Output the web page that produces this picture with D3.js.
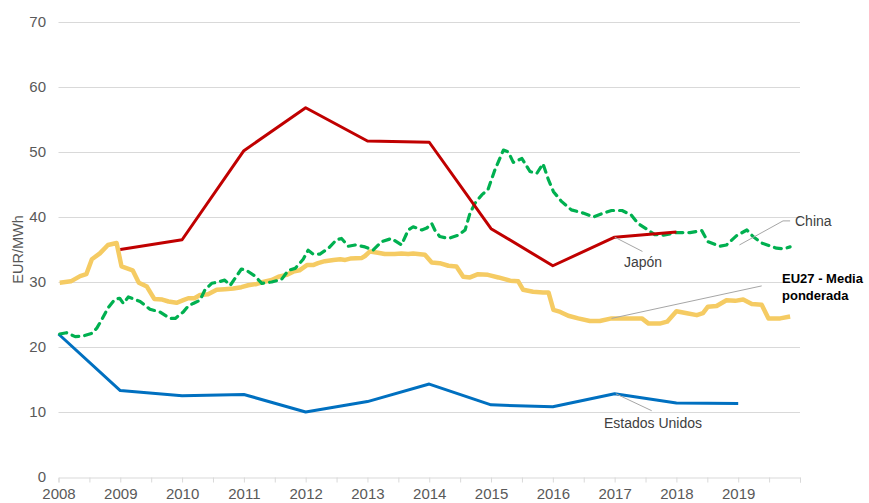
<!DOCTYPE html>
<html>
<head>
<meta charset="utf-8">
<script src="https://cdn.jsdelivr.net/npm/d3@7"></script>
<style>
  html, body { margin: 0; padding: 0; background: #fff; }
  svg { display: block; font-family: "Liberation Sans", Arial, sans-serif; }
</style>
</head>
<body>
<svg id="chart" width="869" height="503"></svg>
<script>
// ---- Data ----
const yearTicks = [2008, 2009, 2010, 2011, 2012, 2013, 2014, 2015, 2016, 2017, 2018, 2019];
const yTicks = [0, 10, 20, 30, 40, 50, 60, 70];
const yTitle = "EUR/MWh";

// Estados Unidos (annual)
const usaYears = [2008, 2009, 2010, 2011, 2012, 2013, 2014, 2015, 2016, 2017, 2018, 2019];
const usaValues = [22.0, 13.3, 12.5, 12.7, 10.0, 11.6, 14.3, 11.1, 10.8, 12.8, 11.4, 11.3];

// Japón (annual)
const japanYears = [2009, 2010, 2011, 2012, 2013, 2014, 2015, 2016, 2017, 2018];
const japanValues = [35.0, 36.5, 50.2, 56.8, 51.7, 51.5, 38.2, 32.5, 36.9, 37.7];

// EU27 - Media ponderada (monthly-ish, decimal years)
const euTimes = [2008.02, 2008.2, 2008.35, 2008.45, 2008.54, 2008.67, 2008.8, 2008.94, 2009.02, 2009.2,
  2009.3, 2009.43, 2009.55, 2009.68, 2009.78, 2009.91, 2010.02, 2010.1, 2010.2, 2010.29,
  2010.42, 2010.56, 2010.69, 2010.83, 2010.96, 2011.07, 2011.21, 2011.31, 2011.45, 2011.56,
  2011.69, 2011.8, 2011.9, 2012.02, 2012.12, 2012.2, 2012.31, 2012.45, 2012.56, 2012.64,
  2012.72, 2012.91, 2012.96, 2013.04, 2013.17, 2013.28, 2013.44, 2013.55, 2013.66, 2013.74,
  2013.93, 2014.04, 2014.17, 2014.31, 2014.44, 2014.55, 2014.66, 2014.79, 2014.95, 2015.12,
  2015.31, 2015.44, 2015.52, 2015.68, 2015.84, 2015.93, 2016.01, 2016.12, 2016.25, 2016.41,
  2016.6, 2016.76, 2016.95, 2017.27, 2017.44, 2017.55, 2017.73, 2017.85, 2018.0, 2018.17,
  2018.33, 2018.43, 2018.51, 2018.65, 2018.81, 2018.95, 2019.08, 2019.22, 2019.38, 2019.49,
  2019.68, 2019.84];
const euValues = [29.9, 30.1, 30.9, 31.2, 33.5, 34.4, 35.7, 36.0, 32.4, 31.8,
  29.9, 29.3, 27.4, 27.3, 27.0, 26.8, 27.2, 27.5, 27.5, 28.0,
  28.1, 28.8, 28.9, 29.0, 29.2, 29.5, 29.7, 30.0, 30.3, 30.8,
  31.1, 31.6, 31.8, 32.6, 32.6, 32.9, 33.2, 33.4, 33.5, 33.4,
  33.6, 33.7, 34.0, 34.7, 34.5, 34.3, 34.3, 34.4, 34.3, 34.4,
  34.2, 33.0, 32.9, 32.5, 32.4, 30.8, 30.7, 31.2, 31.1, 30.7,
  30.2, 30.1, 28.8, 28.5, 28.4, 28.4, 25.7, 25.4, 24.8, 24.4,
  24.0, 24.0, 24.4, 24.4, 24.4, 23.6, 23.6, 23.9, 25.5, 25.2,
  24.9, 25.2, 26.2, 26.3, 27.2, 27.1, 27.3, 26.6, 26.5, 24.4,
  24.4, 24.7];

// China (monthly-ish, decimal years)
const chinaTimes = [2008.02, 2008.13, 2008.27, 2008.4, 2008.54, 2008.62, 2008.7, 2008.8, 2008.91, 2008.99,
  2009.05, 2009.13, 2009.32, 2009.48, 2009.64, 2009.8, 2009.89, 2010.02, 2010.1, 2010.18,
  2010.29, 2010.37, 2010.48, 2010.59, 2010.69, 2010.78, 2010.86, 2010.96, 2011.04, 2011.18,
  2011.29, 2011.45, 2011.61, 2011.72, 2011.83, 2011.96, 2012.04, 2012.12, 2012.23, 2012.37,
  2012.5, 2012.58, 2012.69, 2012.8, 2012.96, 2013.09, 2013.23, 2013.39, 2013.55, 2013.66,
  2013.74, 2013.88, 2013.96, 2014.04, 2014.09, 2014.17, 2014.31, 2014.47, 2014.58, 2014.66,
  2014.74, 2014.85, 2014.95, 2015.06, 2015.2, 2015.28, 2015.36, 2015.5, 2015.63, 2015.74,
  2015.84, 2015.93, 2016.01, 2016.14, 2016.3, 2016.49, 2016.66, 2016.79, 2016.95, 2017.12,
  2017.27, 2017.38, 2017.54, 2017.65, 2017.79, 2018.0, 2018.22, 2018.41, 2018.51, 2018.7,
  2018.81, 2018.97, 2019.14, 2019.24, 2019.38, 2019.47, 2019.62, 2019.73, 2019.84];
const chinaValues = [22.0, 22.2, 21.6, 21.7, 22.1, 22.9, 24.2, 26.0, 27.3, 27.5,
  26.7, 27.7, 27.0, 25.8, 25.4, 24.4, 24.4, 25.4, 26.3, 26.7,
  27.2, 28.8, 29.8, 30.0, 30.3, 29.5, 30.6, 32.0, 31.8, 30.9,
  29.8, 30.0, 30.4, 31.8, 32.1, 33.5, 34.9, 34.3, 34.3, 35.2,
  36.5, 36.7, 35.5, 35.7, 35.4, 34.9, 36.2, 36.7, 35.7, 38.0,
  38.5, 38.0, 38.3, 39.0, 38.0, 37.0, 36.7, 37.2, 38.0, 40.6,
  42.1, 43.4, 44.2, 47.2, 50.3, 50.0, 48.4, 49.0, 47.0, 46.7,
  48.2, 45.7, 43.9, 42.4, 41.1, 40.6, 40.0, 40.5, 41.0, 41.0,
  40.3, 39.0, 38.0, 37.3, 37.2, 37.6, 37.6, 37.9, 36.2, 35.5,
  35.7, 37.1, 38.0, 37.0, 36.0, 35.7, 35.2, 35.1, 35.4];

// ---- Chart ----
const svg = d3.select("#chart");
const x = d3.scaleLinear().domain([2008, 2020]).range([58.5, 800]);
const y = d3.scaleLinear().domain([0, 70]).range([477, 22]);

// gridlines
svg.append("g").selectAll("line").data(yTicks.filter(d => d > 0)).join("line")
  .attr("x1", x(2008)).attr("x2", x(2020))
  .attr("y1", d => Math.round(y(d)) + 0.5).attr("y2", d => Math.round(y(d)) + 0.5)
  .attr("stroke", "#d9d9d9").attr("stroke-width", 1);

// y axis labels
const yAxis = d3.axisLeft(y).tickValues(yTicks).tickSize(0).tickPadding(0);
const gy = svg.append("g").attr("transform", "translate(46,0)").call(yAxis);
gy.select(".domain").remove();
gy.selectAll("text").attr("fill", "#595959").style("font-size", "15px")
  .style("font-family", "'Liberation Sans', Arial, sans-serif");

// x axis
const halfYears = d3.range(2008, 2020.01, 0.5);
const xAxis = d3.axisBottom(x).tickValues(halfYears).tickSize(5)
  .tickFormat(d => Number.isInteger(d) && yearTicks.includes(d) ? String(d) : "");
const gx = svg.append("g").attr("transform", `translate(0,${Math.round(y(0)) + 0.5})`).call(xAxis);
gx.select(".domain").attr("stroke", "#d9d9d9");
gx.selectAll(".tick line").attr("stroke", "#d9d9d9");
gx.selectAll("text").attr("fill", "#595959").style("font-size", "15px")
  .style("font-family", "'Liberation Sans', Arial, sans-serif").attr("dy", "0.75em").attr("y", 10);

// y title
svg.append("text")
  .attr("transform", `translate(23,${y(35)}) rotate(-90)`)
  .attr("text-anchor", "middle")
  .attr("fill", "#595959").style("font-size", "14.5px")
  .text(yTitle);

const line = d3.line().x(d => x(d[0])).y(d => y(d[1]));

function drawSeries(times, values, color, width, dash) {
  const p = svg.append("path")
    .datum(d3.zip(times, values))
    .attr("d", line)
    .attr("fill", "none")
    .attr("stroke", color)
    .attr("stroke-width", width)
    .attr("stroke-linejoin", "round");
  if (dash) p.attr("stroke-dasharray", dash).attr("stroke-linecap", "round");
  return p;
}

drawSeries(euTimes, euValues, "#F5CB63", 4.5);
drawSeries(usaYears, usaValues, "#0070C0", 3);
drawSeries(chinaTimes, chinaValues, "#00B050", 3.2, "7,6");
drawSeries(japanYears, japanValues, "#C00000", 3);

// ---- Labels with leader lines ----
const leader = "#a6a6a6";
function leaderLine(pts) {
  svg.append("path")
    .attr("d", d3.line()(pts))
    .attr("fill", "none").attr("stroke", leader).attr("stroke-width", 1);
}
// China
leaderLine([[x(2019.02), y(35.7)], [x(2019.725), y(39.4)], [x(2019.84), y(39.4)]]);
svg.append("text").attr("x", 795).attr("y", y(39.4)).attr("dy", "0.35em")
  .attr("fill", "#404040").style("font-size", "14px").text("China");
// Japón
leaderLine([[x(2017.0), y(36.9)], [x(2017.45), y(34.7)]]);
svg.append("text").attr("x", 624).attr("y", y(33.1)).attr("dy", "0.35em")
  .attr("fill", "#404040").style("font-size", "14px").text("Japón");
// EU27
leaderLine([[x(2016.95), y(24.4)], [x(2019.38), y(29.4)]]);
svg.append("text").attr("x", 782).attr("y", y(30.6)).attr("dy", "0.35em")
  .attr("fill", "#000").style("font-size", "13px").style("font-weight", "bold").text("EU27 - Media");
svg.append("text").attr("x", 782).attr("y", y(27.9)).attr("dy", "0.35em")
  .attr("fill", "#000").style("font-size", "13px").style("font-weight", "bold").text("ponderada");
// Estados Unidos
leaderLine([[x(2017.02), y(12.8)], [x(2017.6), y(10.2)]]);
svg.append("text").attr("x", 604).attr("y", y(8.3)).attr("dy", "0.35em")
  .attr("fill", "#404040").style("font-size", "14px").text("Estados Unidos");
</script>
</body>
</html>
